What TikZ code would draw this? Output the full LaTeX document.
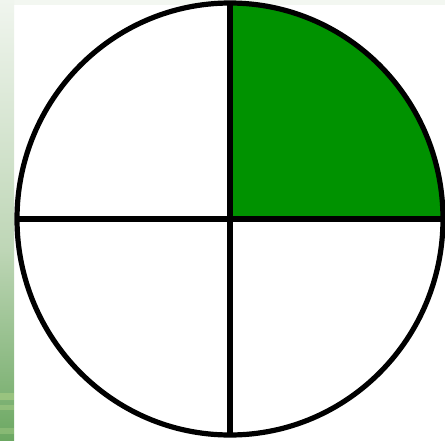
\documentclass[tikz,border=0pt]{standalone}
\usetikzlibrary{calc}
\definecolor{fillgreen}{RGB}{0,146,0}
\definecolor{striptop}{RGB}{240,245,238}
\definecolor{stripmid}{RGB}{190,214,182}
\definecolor{stripbot}{RGB}{108,168,98}
\definecolor{band}{RGB}{160,200,130}
\definecolor{topband}{RGB}{243,247,241}
\tikzset{outline/.style={line width=5.2pt, black}}
\begin{document}
\begin{tikzpicture}[x=1pt,y=-1pt]
\useasboundingbox (0,0) rectangle (445,440);
\fill[white] (0,0) rectangle (445,440);
% top light band
\fill[topband] (0,0) rectangle (445,5);
% left gradient strip
\shade[top color=striptop, bottom color=stripmid] (0,0) rectangle (14,250);
\shade[top color=stripmid, bottom color=stripbot] (0,250) rectangle (14,440);
\fill[band, opacity=0.8] (0,393) rectangle (14,400);
\fill[band, opacity=0.6] (0,405) rectangle (14,410);
\fill[band, opacity=0.5] (0,428) rectangle (14,434);
% circle
\coordinate (c) at (230,219);
\fill[fillgreen] (c) -- (230,3) arc[start angle=90, end angle=0, x radius=213, y radius=-216] -- cycle;
\draw[outline] (c) ellipse[x radius=213, y radius=216];
\coordinate (t) at (230,3);
\coordinate (b) at (230,435);
\coordinate (l) at (17,219);
\coordinate (r) at (443,219);
\draw[outline] (t) -- (b);
\draw[outline] (l) -- (r);
\end{tikzpicture}
\end{document}
